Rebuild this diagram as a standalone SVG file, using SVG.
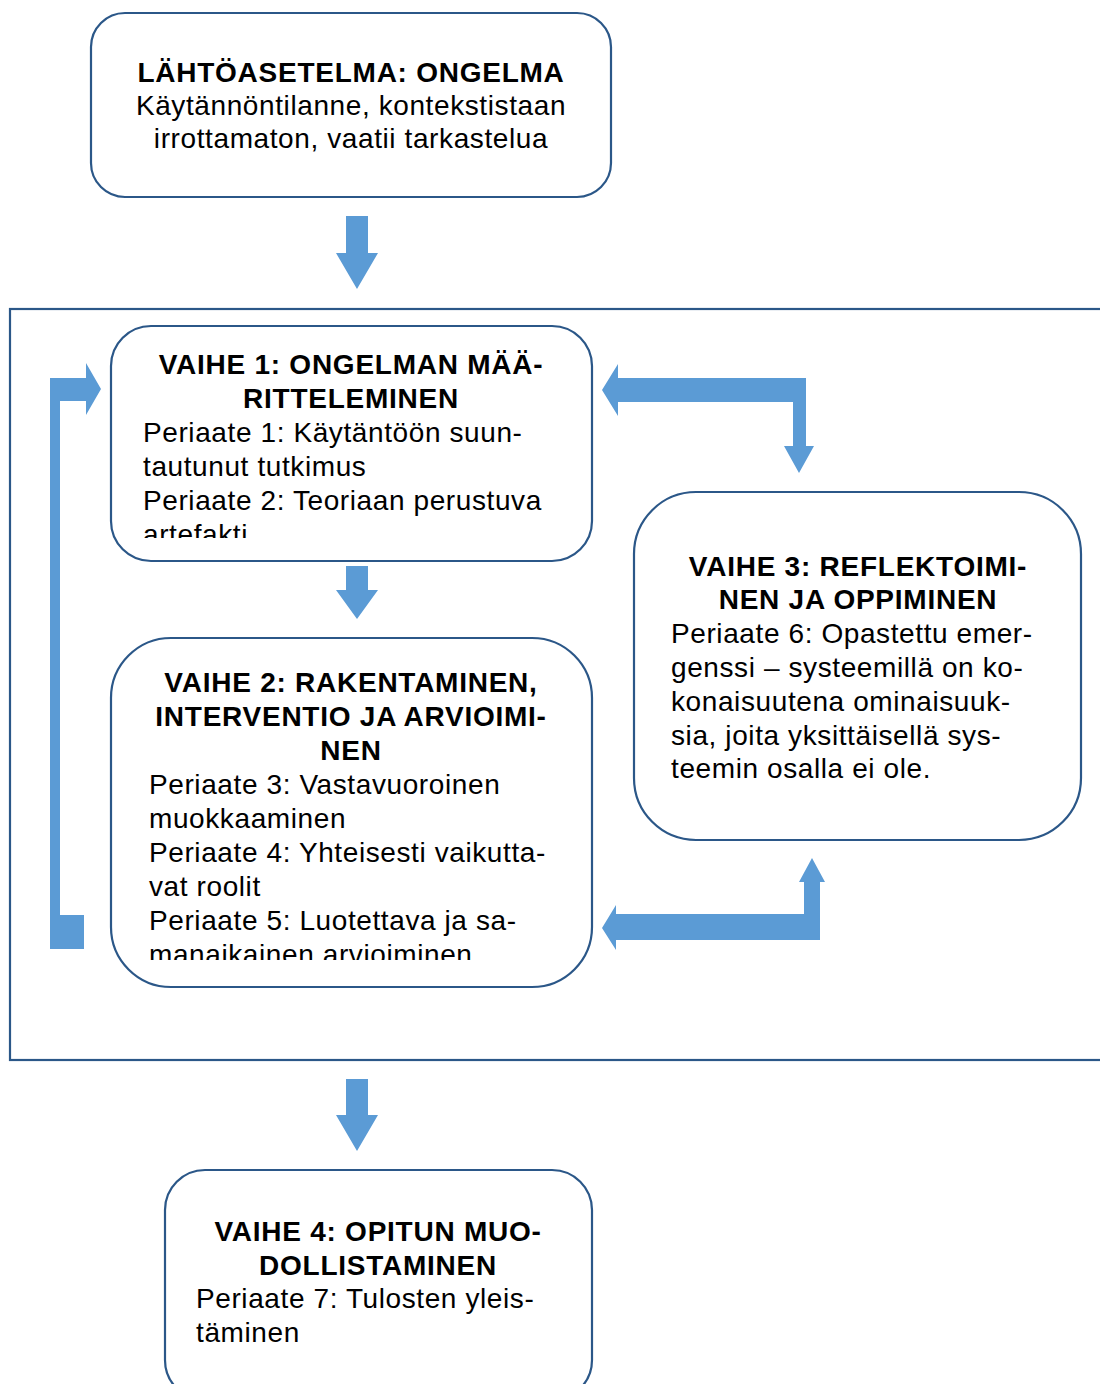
<svg xmlns="http://www.w3.org/2000/svg" width="1100" height="1384" viewBox="0 0 1100 1384">
<style>
.box{fill:#fff;stroke:#2b5788;stroke-width:2.2}
.frame{fill:none;stroke:#2b5788;stroke-width:2.2}
.arr{fill:#5b9bd5}
text{font-family:"Liberation Sans",Arial,sans-serif;font-size:28px;letter-spacing:0.6px;fill:#000}
.b{font-weight:bold;letter-spacing:0.75px}
.c{text-anchor:middle}
</style>
<defs>
<clipPath id="c1"><rect x="111" y="326" width="481" height="212"/></clipPath>
<clipPath id="c2"><rect x="111" y="638" width="481" height="322"/></clipPath>
</defs>
<rect class="frame" x="10" y="309" width="1100" height="751"/>
<g id="connectors">
<polygon class="arr" points="346,216 368,216 368,253 378,253 357,289 336,253 346,253"/>
<polygon class="arr" points="346,566 368,566 368,590 378,590 357,619 336,590 346,590"/>
<polygon class="arr" points="346,1079 368,1079 368,1115 378,1115 357,1151 336,1115 346,1115"/>
<polygon class="arr" points="50,949 84,949 84,915 60,915 60,401 86,401 86,415 101,389 86,363 86,378 50,378"/>
<polygon class="arr" points="602,390 618,364 618,378 806,378 806,446 814,446 799,473 784,446 793,446 793,402 618,402 618,416"/>
<polygon class="arr" points="602,928 616,905 616,914 804,914 804,882 799,882 812,858 825,882 820,882 820,940 616,940 616,950"/>
</g>
<g id="n0">
<rect class="box" x="91" y="13" width="520" height="184" rx="34"/>
<text class="b c" x="351" y="82">LÄHTÖASETELMA: ONGELMA</text>
<text class="c" x="351" y="115">Käytännöntilanne, kontekstistaan</text>
<text class="c" x="351" y="148">irrottamaton, vaatii tarkastelua</text>
</g>
<g id="n1">
<rect class="box" x="111" y="326" width="481" height="235" rx="40"/>
<g clip-path="url(#c1)">
<text class="b c" x="351" y="374">VAIHE 1: ONGELMAN MÄÄ-</text>
<text class="b c" x="351" y="408">RITTELEMINEN</text>
<text x="143" y="442">Periaate 1: Käytäntöön suun-</text>
<text x="143" y="476">tautunut tutkimus</text>
<text x="143" y="510">Periaate 2: Teoriaan perustuva</text>
<text x="143" y="544">artefakti</text>
</g>
</g>
<g id="n2">
<rect class="box" x="111" y="638" width="481" height="349" rx="60"/>
<g clip-path="url(#c2)">
<text class="b c" x="351" y="692">VAIHE 2: RAKENTAMINEN,</text>
<text class="b c" x="351" y="726">INTERVENTIO JA ARVIOIMI-</text>
<text class="b c" x="351" y="760">NEN</text>
<text x="149" y="794">Periaate 3: Vastavuoroinen</text>
<text x="149" y="828">muokkaaminen</text>
<text x="149" y="862">Periaate 4: Yhteisesti vaikutta-</text>
<text x="149" y="896">vat roolit</text>
<text x="149" y="930">Periaate 5: Luotettava ja sa-</text>
<text x="149" y="964">manaikainen arvioiminen</text>
</g>
</g>
<g id="n3">
<rect class="box" x="634" y="492" width="447" height="348" rx="62"/>
<text class="b c" x="858" y="576">VAIHE 3: REFLEKTOIMI-</text>
<text class="b c" x="858" y="609">NEN JA OPPIMINEN</text>
<text x="671" y="643">Periaate 6: Opastettu emer-</text>
<text x="671" y="677">genssi – systeemillä on ko-</text>
<text x="671" y="711">konaisuutena ominaisuuk-</text>
<text x="671" y="745">sia, joita yksittäisellä sys-</text>
<text x="671" y="778">teemin osalla ei ole.</text>
</g>
<g id="n4">
<rect class="box" x="165" y="1170" width="427" height="230" rx="40"/>
<text class="b c" x="378" y="1241">VAIHE 4: OPITUN MUO-</text>
<text class="b c" x="378" y="1275">DOLLISTAMINEN</text>
<text x="196" y="1308">Periaate 7: Tulosten yleis-</text>
<text x="196" y="1342">täminen</text>
</g>
</svg>
